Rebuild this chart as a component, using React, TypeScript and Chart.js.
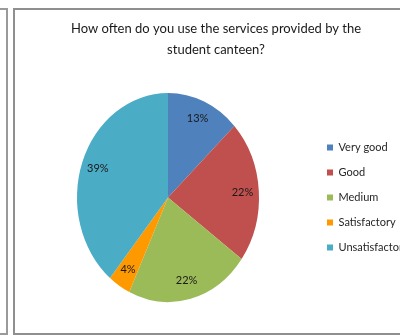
import React, { useEffect, useRef } from "react";
import { Chart, registerables } from "chart.js";

Chart.register(...registerables);

const titleLines = [
  "How often do you use the services provided by the",
  "student canteen?",
];
const categories = ["Very good", "Good", "Medium", "Satisfactory", "Unsatisfactory"];
const values = [13, 22, 22, 4, 39];
const colors = ["#4F81BD", "#C0504D", "#9BBB59", "#FF9900", "#4BACC6"];

const SCALE_Y = 1.148;

const ellipsePlugin = {
  id: "ellipseAndLabels",
  beforeDatasetsDraw(chart: any) {
    const ctx = chart.ctx;
    const a = chart.chartArea;
    const cx = (a.left + a.right) / 2;
    const cy = (a.top + a.bottom) / 2;
    ctx.save();
    ctx.translate(cx, cy);
    ctx.scale(1, SCALE_Y);
    ctx.translate(-cx, -cy);
  },
  afterDatasetsDraw(chart: any) {
    const ctx = chart.ctx;
    ctx.restore();
    const meta = chart.getDatasetMeta(0);
    const data = chart.data.datasets[0].data as number[];
    const total = data.reduce((s, v) => s + v, 0);
    ctx.save();
    ctx.font = "11px Lato";
    ctx.fillStyle = "#1a1a1a";
    ctx.textAlign = "center";
    ctx.textBaseline = "middle";
    meta.data.forEach((arc: any, i: number) => {
      const p = arc.getProps(["x", "y", "startAngle", "endAngle", "outerRadius"], true);
      const mid = (p.startAngle + p.endAngle) / 2;
      const r = p.outerRadius * 0.82;
      const lx = p.x + Math.cos(mid) * r;
      const ly = p.y + Math.sin(mid) * r * SCALE_Y;
      ctx.fillText(Math.round((data[i] / total) * 100) + "%", lx, ly);
    });
    ctx.restore();
  },
};

export default function App() {
  const ref = useRef<HTMLCanvasElement>(null);
  useEffect(() => {
    if (!ref.current) return;
    const chart = new Chart(ref.current, {
      type: "pie",
      data: {
        labels: categories,
        datasets: [
          {
            data: values,
            backgroundColor: colors,
            borderWidth: 0,
          },
        ],
      },
      options: {
        animation: false,
        responsive: false,
        devicePixelRatio: 1,
        layout: { padding: { left: 23, right: 11, top: 0, bottom: 47.5 } },
        plugins: {
          tooltip: { enabled: false },
          title: {
            display: true,
            text: titleLines,
            color: "#1a1a1a",
            font: { family: "Lato", size: 13, weight: "normal", lineHeight: 1.5615 },
            padding: { top: 19, bottom: 46.9 },
          },
          legend: {
            display: true,
            position: "right",
            maxWidth: 96,
            title: {
              display: true,
              text: "",
              font: { family: "Lato", size: 10, lineHeight: 1 },
              padding: { top: 96.5, bottom: 0 },
            },
            labels: {
              boxWidth: 6,
              boxHeight: 6,
              padding: 14,
              color: "#262626",
              font: { family: "Lato", size: 11 },
            },
          },
        },
      },
      plugins: [ellipsePlugin],
    } as any);
    return () => chart.destroy();
  }, []);

  return (
    <div
      style={{
        position: "fixed",
        left: 0,
        top: 0,
        width: 400,
        height: 336,
        overflow: "hidden",
        background: "#ffffff",
      }}
    >
      <div
        style={{
          position: "absolute",
          left: -20,
          top: 8,
          width: 28,
          height: 327,
          boxSizing: "border-box",
          border: "2px solid #9a9a9a",
        }}
      />
      <div
        style={{
          position: "absolute",
          left: 13,
          top: 8,
          width: 420,
          height: 327,
          boxSizing: "border-box",
          border: "2px solid #8f8f8f",
        }}
      />
      <canvas
        ref={ref}
        width={420}
        height={336}
        style={{ position: "absolute", left: 0, top: 0, display: "block" }}
      />
    </div>
  );
}
